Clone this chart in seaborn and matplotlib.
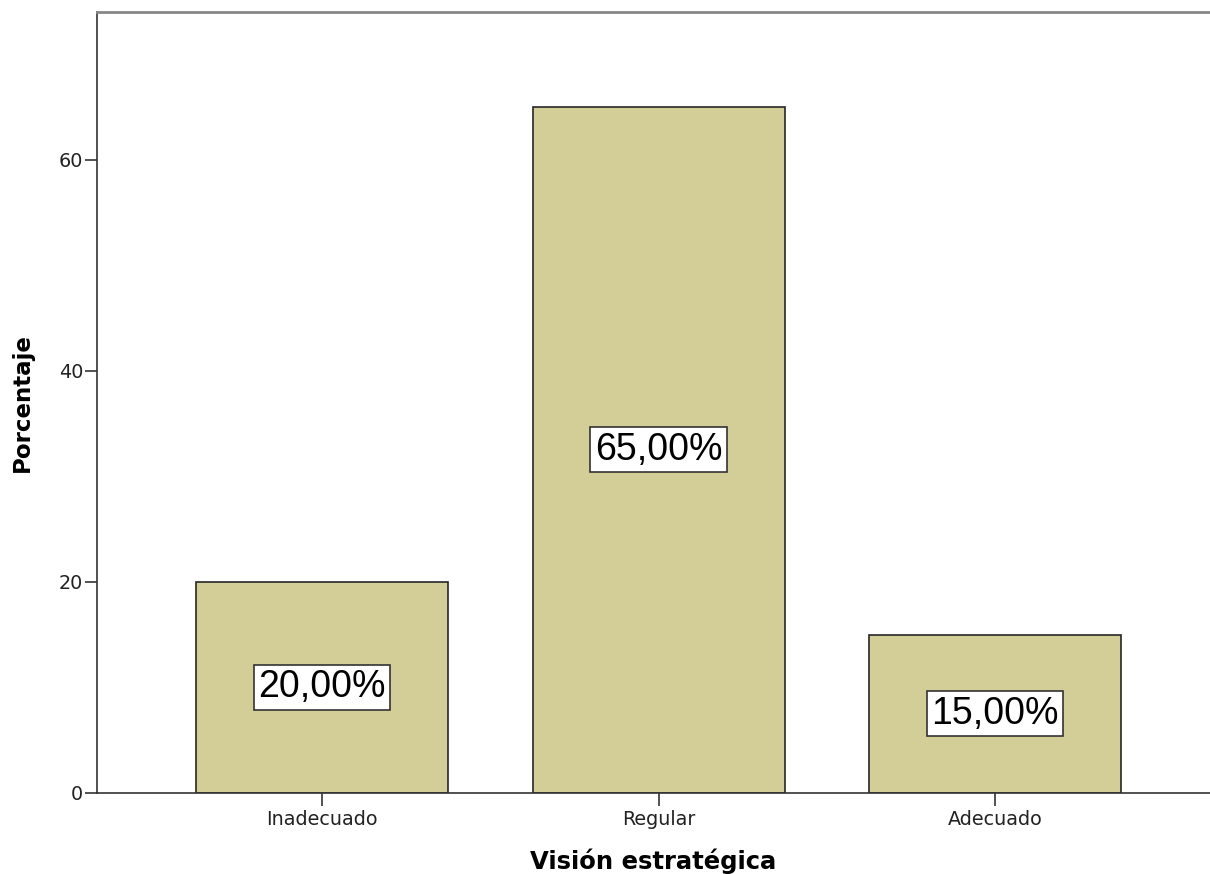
import matplotlib
matplotlib.use("Agg")
import matplotlib.pyplot as plt
import seaborn as sns
import pandas as pd

categorias = ["Inadecuado", "Regular", "Adecuado"]
porcentajes = [20.0, 65.0, 15.0]
etiquetas = ["20,00%", "65,00%", "15,00%"]
yticks = [0, 20, 40, 60]

sns.set_theme(style="white")
plt.rcParams["font.family"] = ["DejaVu Sans"]

df = pd.DataFrame({"cat": categorias, "pct": porcentajes})

fig = plt.figure(figsize=(12.10, 8.74), dpi=100)
ax = fig.add_axes([0.0802, 0.0927, 0.9198, 0.8936])

sns.barplot(data=df, x="cat", y="pct", order=categorias, color="#D3CE98",
            saturation=1, width=0.749, edgecolor="#262626", linewidth=1.2, ax=ax)

ax.set_xlim(-0.669, 2.639)
ax.set_ylim(0, 74)
ax.set_yticks(yticks)
ax.set_yticklabels([str(t) for t in yticks])

# value labels in white boxes at mid-height of each bar
for i, (v, txt) in enumerate(zip(porcentajes, etiquetas)):
    ax.text(i, v / 2, txt, ha="center", va="center", fontsize=27,
            family="Liberation Sans", color="black",
            bbox=dict(boxstyle="square,pad=0.12", facecolor="white",
                      edgecolor="#333333", linewidth=1.2))

ax.spines["right"].set_visible(False)
ax.spines["top"].set_color("#888888")
ax.spines["top"].set_linewidth(2)
for side in ["left", "bottom"]:
    ax.spines[side].set_color("#333333")
    ax.spines[side].set_linewidth(1.2)

ax.tick_params(axis="both", which="major", direction="out", length=9, width=1.2,
               color="#333333", labelsize=13.8, labelcolor="#222222",
               left=True, bottom=True)
ax.tick_params(axis="y", pad=1)
ax.tick_params(axis="x", pad=3)

ax.set_xlabel("Visión estratégica", fontsize=17.5, fontweight="bold",
              color="black", labelpad=14)
ax.set_ylabel("Porcentaje", fontsize=16.5, fontweight="bold", color="black",
              labelpad=18)

fig.savefig("out.png", dpi=100, facecolor="white")
